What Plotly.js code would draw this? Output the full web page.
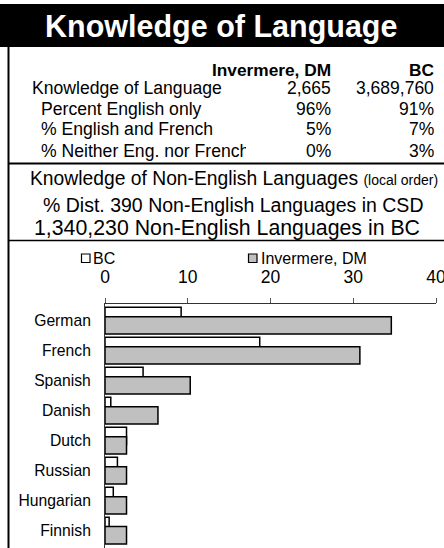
<!DOCTYPE html>
<html>
<head>
<meta charset="utf-8">
<script src="https://cdn.plot.ly/plotly-3.0.1.min.js"></script>
<style>
  html, body { margin: 0; padding: 0; background: #fff; }
  #chart { width: 444px; height: 548px; }
</style>
</head>
<body>
<div id="chart"></div>
<script>
// chart data
var languages = ['German', 'French', 'Spanish', 'Danish', 'Dutch', 'Russian', 'Hungarian', 'Finnish'];
var bcShare = [9.2, 18.7, 4.6, 0.7, 2.6, 1.5, 1.0, 0.5];
var invermereShare = [34.6, 30.8, 10.3, 6.4, 2.6, 2.6, 2.6, 2.6];
var xTicks = [0, 10, 20, 30, 40];
var seriesNames = ['BC', 'Invermere, DM'];

// summary table
var tableHeaders = ['Invermere, DM', 'BC'];
var rowLabels = ['Knowledge of Language', 'Percent English only', '% English and French', '% Neither Eng. nor French'];
var invermereValues = ['2,665', '96%', '5%', '0%'];
var bcValues = ['3,689,760', '91%', '7%', '3%'];

var titleText = 'Knowledge of Language';
var subLines = [
  'Knowledge of Non-English Languages <span style="font-size:14px">(local order)</span>',
  '% Dist. 390 Non-English Languages in CSD',
  '1,340,230 Non-English Languages in BC'
];

var FONT = '"Liberation Sans", Arial, sans-serif';
var L = 105, R = 436, T = 304, B = 548;
function px(x) { return (x - L) / (R - L); }
function py(y) { return (B - y) / (B - T); }

var fills = ['#ffffff', '#c0c0c0'];
var offsets = [-0.447, -0.133];
var shares = [bcShare, invermereShare];

var traces = shares.map(function (vals, i) {
  return {
    type: 'bar',
    orientation: 'h',
    y: languages,
    x: vals,
    name: seriesNames[i],
    width: 0.58,
    offset: offsets[i],
    marker: { color: fills[i], line: { color: '#000', width: 1.5 } },
    showlegend: false,
    hoverinfo: 'x+y'
  };
});

function note(text, x, y, xanchor, size, extra) {
  var a = {
    text: text, xref: 'paper', yref: 'paper', x: px(x), y: py(y),
    xanchor: xanchor, yanchor: 'middle', showarrow: false,
    font: { family: FONT, size: size, color: '#000' }
  };
  for (var k in extra) a[k] = extra[k];
  return a;
}

var annotations = [];
annotations.push(note('<b>' + titleText + '</b>', 221, 26, 'center', 30.5, { font: { family: FONT, size: 30.5, color: '#fff' } }));

// table
var rowY = [88.3, 108.5, 128.5, 150.5];
annotations.push(note('<b>' + tableHeaders[0] + '</b>', 333, 70.5, 'right', 17.3));
annotations.push(note('<b>' + tableHeaders[1] + '</b>', 436, 70.5, 'right', 17.3));
rowLabels.forEach(function (lab, i) {
  var x = i === 0 ? 29.5 : 38.5;
  annotations.push(note(lab, x, rowY[i], 'left', 17.6, { width: 205, align: 'left' }));
  annotations.push(note(invermereValues[i], 333, rowY[i], 'right', 17.5));
  annotations.push(note(bcValues[i], 436, rowY[i], 'right', 17.5));
});

// sub headings
var subX = [234, 232.5, 227];
var subY = [178.3, 205, 228.3];
var subSize = [19.3, 19.5, 21.3];
subLines.forEach(function (t, i) {
  annotations.push(note(t, subX[i], subY[i], 'center', subSize[i]));
});

// legend
var legX = [81.5, 248.5];
var legTextX = [90.5, 259];
seriesNames.forEach(function (n, i) {
  annotations.push(note(n, legTextX[i], 258, 'left', 16));
});

var shapes = [
  { type: 'rect', xref: 'paper', yref: 'paper', x0: px(0), x1: px(444), y0: py(4), y1: py(47),
    fillcolor: '#000', line: { width: 0 } },
  { type: 'line', xref: 'paper', yref: 'paper', x0: px(8.5), x1: px(8.5), y0: py(47), y1: py(548),
    line: { color: '#000', width: 2 } },
  { type: 'line', xref: 'paper', yref: 'paper', x0: px(8), x1: px(444), y0: py(163.5), y1: py(163.5),
    line: { color: '#000', width: 2 } },
  { type: 'line', xref: 'paper', yref: 'paper', x0: px(8), x1: px(444), y0: py(240.5), y1: py(240.5),
    line: { color: '#000', width: 1.5 } }
];
seriesNames.forEach(function (n, i) {
  shapes.push({ type: 'rect', xref: 'paper', yref: 'paper',
    x0: px(legX[i]), x1: px(legX[i] + 8.5), y0: py(262.5), y1: py(254),
    fillcolor: fills[i], line: { color: '#000', width: 1.2 } });
});

var layout = {
  width: 444,
  height: 548,
  margin: { l: L, r: 444 - R, t: T, b: 0 },
  paper_bgcolor: '#fff',
  plot_bgcolor: '#fff',
  barmode: 'overlay',
  showlegend: false,
  font: { family: FONT, color: '#000' },
  xaxis: {
    side: 'top',
    range: [0, 40],
    tickvals: xTicks,
    ticks: 'outside',
    ticklen: 5,
    tickcolor: '#555',
    showline: true,
    linecolor: '#333',
    showgrid: false,
    zeroline: false,
    tickfont: { family: FONT, size: 17.5, color: '#000' },
    ticklabelstandoff: 8,
    ticklabeloverflow: 'allow'
  },
  yaxis: {
    type: 'category',
    range: [7.58, -0.557],
    showline: true,
    linecolor: '#333',
    ticks: '',
    showgrid: false,
    zeroline: false,
    tickfont: { family: FONT, size: 15.7, color: '#000' },
    ticklabelstandoff: 10
  },
  shapes: shapes,
  annotations: annotations
};

Plotly.newPlot('chart', traces, layout, { displayModeBar: false, staticPlot: true });
</script>
</body>
</html>
